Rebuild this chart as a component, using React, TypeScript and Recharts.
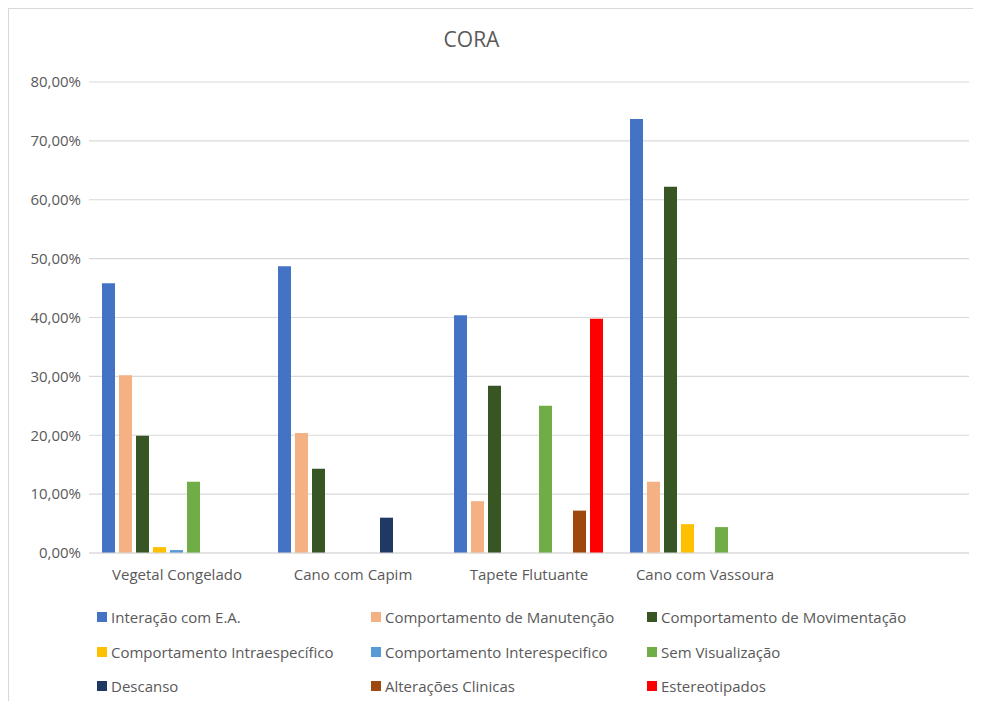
import React from "react";
import {
  Bar,
  BarChart,
  CartesianGrid,
  Legend,
  XAxis,
  YAxis,
} from "recharts";

// Percentual de cada categoria comportamental por item de enriquecimento
const categories = [
  "Vegetal Congelado",
  "Cano com Capim",
  "Tapete Flutuante",
  "Cano com Vassoura",
  "",
];

const interacao = [45.8, 48.7, 40.4, 73.7, null];
const manutencao = [30.2, 20.4, 8.8, 12.1, null];
const movimentacao = [19.9, 14.3, 28.4, 62.2, null];
const intraespecifico = [1.0, 0, 0, 4.9, null];
const interespecifico = [0.5, 0, 0, 0, null];
const semVisualizacao = [12.1, 0, 25.0, 4.4, null];
const descanso = [0, 6.0, 0, 0, null];
const alteracoesClinicas = [0, 0, 7.2, 0, null];
const estereotipados = [0, 0, 39.8, 0, null];

const yTicks = [0, 10, 20, 30, 40, 50, 60, 70, 80];

const series = [
  { key: "interacao", name: "Interação com E.A.", values: interacao, color: "#4472C4" },
  { key: "manutencao", name: "Comportamento de Manutenção", values: manutencao, color: "#F4B183" },
  { key: "movimentacao", name: "Comportamento de Movimentação", values: movimentacao, color: "#375623" },
  { key: "intra", name: "Comportamento Intraespecífico", values: intraespecifico, color: "#FFC000" },
  { key: "inter", name: "Comportamento Interespecifico", values: interespecifico, color: "#5B9BD5" },
  { key: "semvis", name: "Sem Visualização", values: semVisualizacao, color: "#70AD47" },
  { key: "descanso", name: "Descanso", values: descanso, color: "#203864" },
  { key: "clinicas", name: "Alterações Clinicas", values: alteracoesClinicas, color: "#9E480E" },
  { key: "estereo", name: "Estereotipados", values: estereotipados, color: "#FF0000" },
];

const data = categories.map((name, i) => {
  const row: Record<string, string | number | null> = { name };
  series.forEach((s) => {
    const v = s.values[i];
    row[s.key] = v === 0 ? null : v;
  });
  return row;
});

const FONT = "'Open Sans', sans-serif";
const TEXT = "#595959";

const fmtPct = (v: number) => `${v.toFixed(2).replace(".", ",")}%`;

// legenda em 3 colunas, como no Excel
function LegendGrid() {
  const colLeft = [88, 362, 638];
  return (
    <div style={{ position: "relative", width: 970, height: 111, fontFamily: FONT }}>
      {series.map((s, i) => {
        const col = i % 3;
        const row = Math.floor(i / 3);
        return (
          <div
            key={s.key}
            style={{
              position: "absolute",
              left: colLeft[col],
              top: 14 + row * 34.5,
              display: "flex",
              alignItems: "center",
              fontSize: 15,
              color: TEXT,
              whiteSpace: "nowrap",
              lineHeight: "20px",
            }}
          >
            <span
              style={{
                display: "inline-block",
                width: 10,
                height: 10,
                background: s.color,
                marginRight: 4,
              }}
            />
            {s.name}
          </div>
        );
      })}
    </div>
  );
}

export default function App() {
  // moldura aberta à direita e embaixo; altura cortada para não gerar rolagem
  return (
    <div
      style={{
        position: "relative",
        width: 972,
        height: 692,
        overflow: "hidden",
        borderLeft: "1px solid #d9d9d9",
        borderTop: "1px solid #d9d9d9",
        background: "#fff",
        fontFamily: FONT,
      }}
    >
      <div
        style={{
          position: "absolute",
          top: 16,
          left: 0,
          width: 925,
          textAlign: "center",
          fontSize: 21,
          color: TEXT,
          fontFamily: FONT,
        }}
      >
        CORA
      </div>
      <BarChart
        width={970}
        height={700}
        data={data}
        margin={{ top: 73, right: 10, bottom: 5, left: 0 }}
        barCategoryGap={13}
        barGap={4}
      >
        <CartesianGrid vertical={false} stroke="#d9d9d9" strokeWidth={1.2} />
        <XAxis
          dataKey="name"
          height={40}
          tickLine={false}
          axisLine={{ stroke: "#d9d9d9", strokeWidth: 1.2 }}
          tick={{ fill: TEXT, fontSize: 15, fontFamily: FONT }}
          tickMargin={10}
          interval={0}
        />
        <YAxis
          width={80}
          domain={[0, 80]}
          ticks={yTicks}
          tickFormatter={fmtPct}
          axisLine={false}
          tickLine={false}
          tick={{ fill: TEXT, fontSize: 15, fontFamily: FONT }}
          tickMargin={2}
        />
        <Legend
          verticalAlign="bottom"
          height={111}
          wrapperStyle={{ left: 0, width: 970 }}
          content={() => <LegendGrid />}
        />
        {series.map((s) => (
          <Bar
            key={s.key}
            dataKey={s.key}
            name={s.name}
            fill={s.color}
            isAnimationActive={false}
          />
        ))}
      </BarChart>
    </div>
  );
}
